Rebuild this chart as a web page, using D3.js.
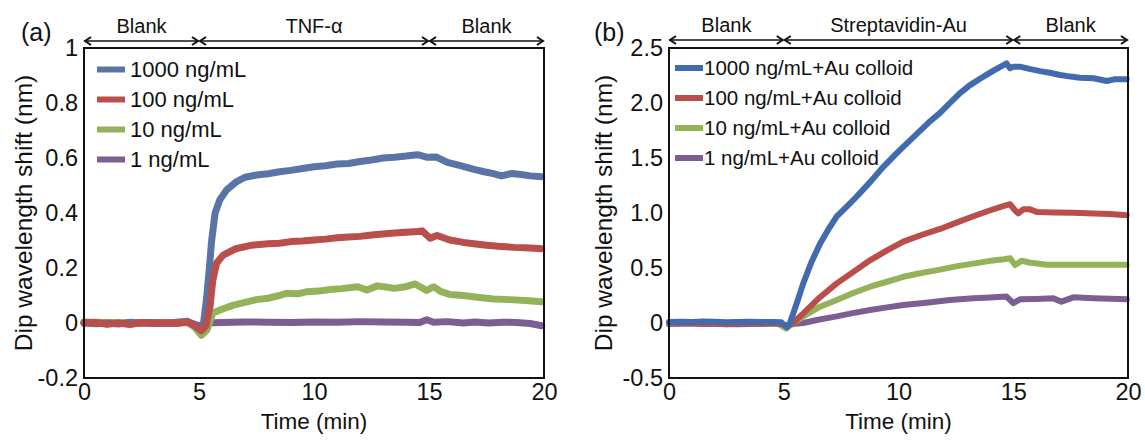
<!DOCTYPE html>
<html>
<head>
<meta charset="utf-8">
<script src="https://cdn.jsdelivr.net/npm/d3@7"></script>
<style>
  body { margin: 0; background: #fff; }
  svg { font-family: "Liberation Sans", Arial, sans-serif; }
</style>
</head>
<body>
<div id="chart"></div>
<script>
// ---------------- data (time in min, shift in nm) ----------------
var timeTicks = [0, 5, 10, 15, 20];
var phaseBounds = [0, 5, 15, 20];
var phasesA = ["Blank", "TNF-\u03b1", "Blank"];
var phasesB = ["Blank", "Streptavidin-Au", "Blank"];
var yTicksA = [-0.2, 0, 0.2, 0.4, 0.6, 0.8, 1];
var yTickLabelsA = ["-0.2", "0", "0.2", "0.4", "0.6", "0.8", "1"];
var yTicksB = [-0.5, 0, 0.5, 1.0, 1.5, 2.0, 2.5];
var yTickLabelsB = ["-0.5", "0", "0.5", "1.0", "1.5", "2.0", "2.5"];
var labelsA = ["1000 ng/mL", "100 ng/mL", "10 ng/mL", "1 ng/mL"];
var labelsB = ["1000 ng/mL+Au colloid", "100 ng/mL+Au colloid", "10 ng/mL+Au colloid", "1 ng/mL+Au colloid"];

var a1000 = [[0,0.002],[0.5,-0.003],[1,0.0],[1.5,-0.004],[2,0.003],[2.5,0.0],[3,0.002],[3.5,-0.002],[4,0.003],[4.5,0.006],[4.8,-0.008],[5.05,-0.025],[5.2,0.0],[5.33,0.09],[5.45,0.2],[5.55,0.3],[5.7,0.4],[5.9,0.447],[6.2,0.484],[6.6,0.512],[7.0,0.53],[7.5,0.538],[8,0.543],[8.5,0.55],[9,0.555],[9.5,0.562],[10,0.568],[10.5,0.572],[11,0.578],[11.5,0.58],[12,0.587],[12.5,0.593],[13,0.6],[13.5,0.603],[14,0.607],[14.5,0.612],[14.9,0.603],[15.3,0.604],[15.8,0.584],[16.2,0.576],[16.6,0.567],[17,0.558],[17.4,0.55],[17.8,0.543],[18.15,0.535],[18.6,0.544],[19,0.54],[19.4,0.535],[19.9,0.532]];
var a100 = [[0,0.0],[0.5,0.002],[1,-0.005],[1.5,0.0],[2,-0.006],[2.5,0.002],[3,-0.002],[3.5,0.001],[4,-0.002],[4.5,0.004],[4.8,-0.01],[5.1,-0.028],[5.3,-0.01],[5.48,0.06],[5.6,0.156],[5.77,0.218],[6.05,0.247],[6.6,0.27],[7.3,0.283],[8,0.288],[8.5,0.29],[9,0.296],[9.5,0.298],[10,0.302],[10.5,0.305],[11,0.31],[11.5,0.313],[12,0.315],[12.5,0.32],[13,0.324],[13.5,0.327],[14,0.33],[14.5,0.333],[14.7,0.335],[15.05,0.308],[15.35,0.318],[15.9,0.302],[16.5,0.293],[17.4,0.284],[18,0.279],[18.7,0.275],[19.4,0.273],[19.9,0.27]];
var a10 = [[0,0.004],[1,0.002],[2,0.0],[3,0.002],[4,0.0],[4.5,0.003],[4.8,-0.015],[5.1,-0.045],[5.35,-0.025],[5.6,0.036],[6,0.05],[6.5,0.065],[7,0.075],[7.5,0.085],[8,0.09],[8.5,0.1],[8.8,0.108],[9.3,0.106],[9.7,0.114],[10.2,0.116],[10.7,0.122],[11.2,0.125],[11.9,0.132],[12.3,0.12],[12.75,0.135],[13.2,0.13],[13.5,0.126],[14,0.132],[14.4,0.142],[14.9,0.118],[15.2,0.132],[15.5,0.115],[15.9,0.104],[16.5,0.1],[17.2,0.093],[17.8,0.087],[18.5,0.085],[19.2,0.082],[19.9,0.077]];
var a1 = [[0,0.0],[1,0.002],[2,-0.002],[3,0.001],[4,0.0],[4.6,0.002],[5.0,-0.01],[5.3,0.0],[6,0.002],[7,0.004],[8,0.003],[9,0.002],[10,0.004],[11,0.003],[12,0.005],[13,0.004],[14,0.003],[14.6,0.002],[14.9,0.012],[15.2,0.003],[15.8,0.005],[16.5,0.0],[17,0.004],[17.6,0.0],[18.2,0.003],[18.8,0.002],[19.4,-0.002],[19.9,-0.01]];

var b1000 = [[0,0.01],[0.5,0.012],[1,0.008],[1.5,0.014],[2,0.012],[2.5,0.006],[3,0.01],[3.5,0.012],[4,0.008],[4.5,0.01],[4.9,0.006],[5.13,-0.04],[5.27,0.0],[5.6,0.2],[5.85,0.36],[6.2,0.55],[6.58,0.72],[7.0,0.87],[7.31,0.97],[7.8,1.07],[8.18,1.15],[8.8,1.29],[9.34,1.42],[10,1.56],[10.65,1.69],[11.3,1.82],[11.81,1.91],[12.24,2.0],[12.68,2.09],[13.1,2.16],[13.55,2.22],[14.1,2.29],[14.71,2.36],[14.86,2.315],[15.0,2.33],[15.29,2.33],[15.7,2.31],[16.17,2.29],[16.6,2.275],[17.04,2.255],[17.5,2.24],[17.9,2.23],[18.5,2.225],[19.07,2.2],[19.4,2.215],[19.94,2.215]];
var b100 = [[0,0.005],[0.5,0.0],[1,0.003],[1.5,-0.01],[2,0.0],[2.5,-0.012],[3,-0.005],[3.5,0.0],[4,-0.008],[4.5,0.002],[5.0,-0.015],[5.2,-0.02],[5.4,0.0],[5.85,0.088],[6.5,0.22],[7.31,0.36],[8,0.46],[8.76,0.57],[9.5,0.66],[10.21,0.74],[11,0.8],[11.81,0.855],[12.5,0.91],[13.26,0.97],[14,1.025],[14.6,1.065],[14.86,1.08],[15.05,1.03],[15.22,0.997],[15.45,1.035],[15.7,1.035],[16.02,1.01],[16.8,1.005],[17.62,1.003],[18.5,0.995],[19.2,0.99],[19.94,0.98]];
var b10 = [[0,0.0],[1,0.004],[2,-0.003],[3,0.002],[4,0.0],[4.8,-0.01],[5.1,-0.05],[5.35,-0.01],[5.85,0.06],[6.5,0.14],[7.31,0.21],[8,0.27],[8.76,0.33],[9.5,0.375],[10.21,0.42],[11,0.455],[11.81,0.485],[12.5,0.515],[13.26,0.54],[14,0.565],[14.6,0.58],[14.86,0.588],[15.08,0.527],[15.37,0.566],[15.7,0.55],[16.46,0.53],[17,0.53],[18,0.53],[19,0.53],[19.94,0.53]];
var b1 = [[0,-0.01],[1,-0.005],[2,-0.008],[3,-0.012],[4,-0.006],[4.8,-0.01],[5.1,-0.03],[5.4,-0.01],[5.85,0.0],[6.5,0.03],[7.31,0.06],[8,0.09],[8.76,0.118],[9.5,0.142],[10.21,0.164],[11.2,0.185],[12.24,0.21],[13.26,0.224],[14,0.232],[14.71,0.24],[15.0,0.18],[15.29,0.215],[16,0.218],[16.75,0.224],[17.1,0.194],[17.62,0.233],[18.5,0.225],[19.94,0.215]];

////////////////////////////////////////////////////////////
//////////////////////// Setup /////////////////////////////
////////////////////////////////////////////////////////////
var W = 1145, H = 440;
var svg = d3.select("#chart").append("svg")
  .attr("width", W).attr("height", H);

var colA = ["#5b74a6", "#b94e4b", "#93b25a", "#7d5e93"];
var colB = ["#416bae", "#b94e4b", "#93b25a", "#7d5e93"];

function drawPanel(p) {
  var x = d3.scaleLinear().domain([0, 20]).range([p.left, p.right]);
  var y = d3.scaleLinear().domain(p.yDomain).range([378, 48]);
  var g = svg.append("g");

  // tick labels (no tick marks)
  var xAxis = d3.axisBottom(x).tickValues(timeTicks).tickSize(0).tickPadding(5);
  g.append("g").attr("transform", "translate(0,378)").call(xAxis)
    .call(function(s) { s.select(".domain").remove(); })
    .selectAll("text").attr("font-size", 23.5).attr("fill", "#111")
    .attr("font-family", "Liberation Sans, Arial, sans-serif");

  var yAxis = d3.axisLeft(y).tickValues(p.yTicks).tickSize(0).tickPadding(6)
    .tickFormat(function(d, i) { return p.yLabels[i]; });
  g.append("g").attr("transform", "translate(" + p.left + ",0)").call(yAxis)
    .call(function(s) { s.select(".domain").remove(); })
    .selectAll("text").attr("font-size", 23.5).attr("fill", "#111")
    .attr("font-family", "Liberation Sans, Arial, sans-serif");

  // series
  var line = d3.line().x(function(d) { return x(d[0]); }).y(function(d) { return y(d[1]); });
  p.order.forEach(function(i) {
    g.append("path").datum(p.series[i])
      .attr("fill", "none").attr("stroke", p.colors[i])
      .attr("stroke-width", p.lw).attr("stroke-linejoin", "round").attr("stroke-linecap", "round")
      .attr("d", line);
  });

  // frame
  g.append("rect").attr("x", p.left).attr("y", 48)
    .attr("width", p.right - p.left).attr("height", 330)
    .attr("fill", "none").attr("stroke", "#111").attr("stroke-width", 2);

  // legend
  p.labels.forEach(function(lab, i) {
    var ly = p.legY + i * p.legStep;
    g.append("line").attr("x1", p.legX).attr("x2", p.legX + 28)
      .attr("y1", ly).attr("y2", ly)
      .attr("stroke", p.colors[i]).attr("stroke-width", 6);
    g.append("text").attr("x", p.legX + p.legGap).attr("y", ly).attr("dy", "0.36em")
      .attr("font-size", p.legFont).attr("fill", "#111").text(lab);
  });

  // phase arrows
  var ay = p.arrowY;
  for (var k = 0; k < 3; k++) {
    var x1 = x(phaseBounds[k]), x2 = x(phaseBounds[k + 1]);
    g.append("line").attr("x1", x1 + 1).attr("x2", x2 - 1).attr("y1", ay).attr("y2", ay)
      .attr("stroke", "#111").attr("stroke-width", 1.6);
    g.append("path")
      .attr("d", "M" + (x1 + 7) + "," + (ay - 4) + "L" + (x1 + 1) + "," + ay + "L" + (x1 + 7) + "," + (ay + 4) +
                 "M" + (x2 - 7) + "," + (ay - 4) + "L" + (x2 - 1) + "," + ay + "L" + (x2 - 7) + "," + (ay + 4))
      .attr("fill", "none").attr("stroke", "#111").attr("stroke-width", 2);
    g.append("text").attr("x", (x1 + x2) / 2).attr("y", ay - 8)
      .attr("text-anchor", "middle").attr("font-size", 20).attr("fill", "#111")
      .text(p.phases[k]);
  }

  // panel letter
  g.append("text").attr("x", p.letterX).attr("y", 41)
    .attr("font-size", 25).attr("fill", "#111").text(p.letter);

  // axis titles
  g.append("text").attr("x", (p.left + p.right) / 2).attr("y", 429)
    .attr("text-anchor", "middle").attr("font-size", 22.5).attr("fill", "#111")
    .text("Time (min)");
  g.append("text")
    .attr("transform", "translate(" + p.yTitleX + ",213) rotate(-90)")
    .attr("text-anchor", "middle").attr("font-size", 24.5).attr("fill", "#111")
    .text("Dip wavelength shift (nm)");
}

drawPanel({
  left: 84, right: 544, yDomain: [-0.2, 1], yTicks: yTicksA, yLabels: yTickLabelsA,
  series: [a1000, a100, a10, a1], colors: colA, order: [3, 2, 0, 1], lw: 7,
  labels: labelsA, legX: 97, legY: 69.5, legStep: 30, legGap: 33, legFont: 22,
  phases: phasesA, arrowY: 41, letter: "(a)", letterX: 21, yTitleX: 32
});

drawPanel({
  left: 669, right: 1128, yDomain: [-0.5, 2.5], yTicks: yTicksB, yLabels: yTickLabelsB,
  series: [b1000, b100, b10, b1], colors: colB, order: [3, 2, 1, 0], lw: 6,
  labels: labelsB, legX: 675, legY: 68, legStep: 30, legGap: 29, legFont: 20.5,
  phases: phasesB, arrowY: 40, letter: "(b)", letterX: 594, yTitleX: 612
});
</script>
</body>
</html>
